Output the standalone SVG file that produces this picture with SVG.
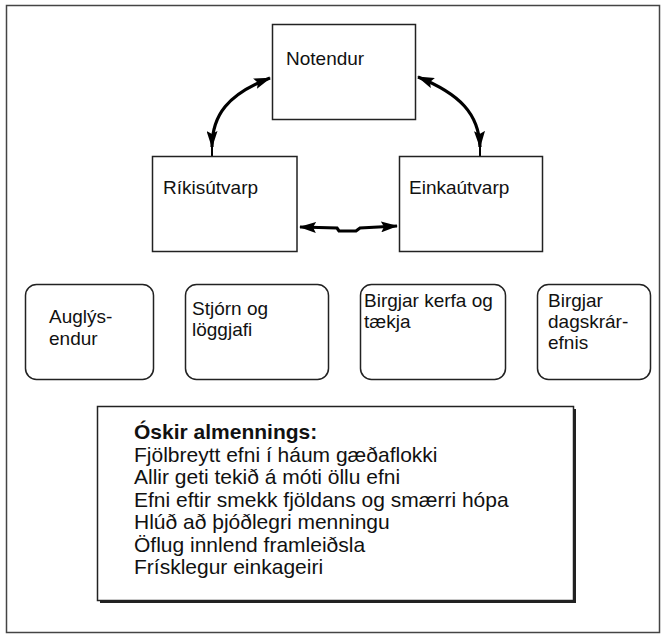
<svg xmlns="http://www.w3.org/2000/svg" width="668" height="639" viewBox="0 0 668 639">
<style>
.box{fill:#fff;stroke:#222;stroke-width:1.5}
.rbox{fill:#fff;stroke:#222;stroke-width:1.5}
.t{font-family:"Liberation Sans",Arial,sans-serif;font-size:19px;fill:#111}
.l{font-family:"Liberation Sans",Arial,sans-serif;font-size:21px;fill:#111}
.conn{fill:none;stroke:#000;stroke-width:3.2}
.stub{fill:none;stroke:#000;stroke-width:2}
</style>
<defs>
<marker id="ah" viewBox="0 0 17 11" refX="16" refY="5.5" markerWidth="17" markerHeight="11" orient="auto-start-reverse" markerUnits="userSpaceOnUse">
<path d="M0,0 L17,5.5 L0,11 L3,5.5 z" fill="#000"/>
</marker>
</defs>
<rect x="0" y="0" width="668" height="639" fill="#fff"/>
<rect x="6.5" y="5.5" width="653" height="627" fill="none" stroke="#444" stroke-width="1.5"/>
<g id="connectors">
<path class="conn" d="M212,147 C212,115 228,94 270,78" marker-start="url(#ah)" marker-end="url(#ah)"/>
<path class="stub" d="M212,145 L212,157"/>
<path class="conn" d="M418,77 C460,94 479,114 480,147" marker-start="url(#ah)" marker-end="url(#ah)"/>
<path class="stub" d="M480,145 L480,157"/>
<path class="conn" d="M300,227 L337,228 L339,231 L356,231 L360,228 L397,226" marker-start="url(#ah)" marker-end="url(#ah)"/>
</g>
<g id="notendur"><rect class="box" x="272.5" y="24.5" width="143" height="95"/><text class="t" x="286" y="65">Notendur</text></g>
<g id="rikisutvarp"><rect class="box" x="152.5" y="156.5" width="144.5" height="95"/><text class="t" x="163" y="194">Ríkisútvarp</text></g>
<g id="einkautvarp"><rect class="box" x="399.5" y="156.5" width="143" height="95"/><text class="t" x="409" y="194">Einkaútvarp</text></g>
<g id="auglysendur"><rect class="rbox" x="25.5" y="284.5" width="128" height="95" rx="11"/><text class="t" x="49" y="323">Auglýs-</text><text class="t" x="49" y="345">endur</text></g>
<g id="stjorn"><rect class="rbox" x="185.5" y="284.5" width="143" height="95" rx="11"/><text class="t" x="192" y="315">Stjórn og</text><text class="t" x="192" y="336">löggjafi</text></g>
<g id="birgjar-kerfa"><rect class="rbox" x="360.5" y="284.5" width="145" height="95" rx="11"/><text class="t" x="364" y="307">Birgjar kerfa og</text><text class="t" x="364" y="328">tækja</text></g>
<g id="birgjar-dagskrar"><rect class="rbox" x="537.5" y="284.5" width="113" height="95" rx="11"/><text class="t" x="548" y="307">Birgjar</text><text class="t" x="548" y="328">dagskrár-</text><text class="t" x="548" y="349">efnis</text></g>
<g id="oskir">
<rect x="100" y="409" width="476" height="194" fill="#222"/>
<rect class="box" x="97.5" y="406.5" width="476" height="194"/>
<text class="l" x="134" y="439" font-weight="bold">Óskir almennings:</text>
<text class="l" x="134" y="461.5">Fjölbreytt efni í háum gæðaflokki</text>
<text class="l" x="134" y="484">Allir geti tekið á móti öllu efni</text>
<text class="l" x="134" y="506.5">Efni eftir smekk fjöldans og smærri hópa</text>
<text class="l" x="134" y="529">Hlúð að þjóðlegri menningu</text>
<text class="l" x="134" y="551.5">Öflug innlend framleiðsla</text>
<text class="l" x="134" y="574">Frísklegur einkageiri</text>
</g>
</svg>
